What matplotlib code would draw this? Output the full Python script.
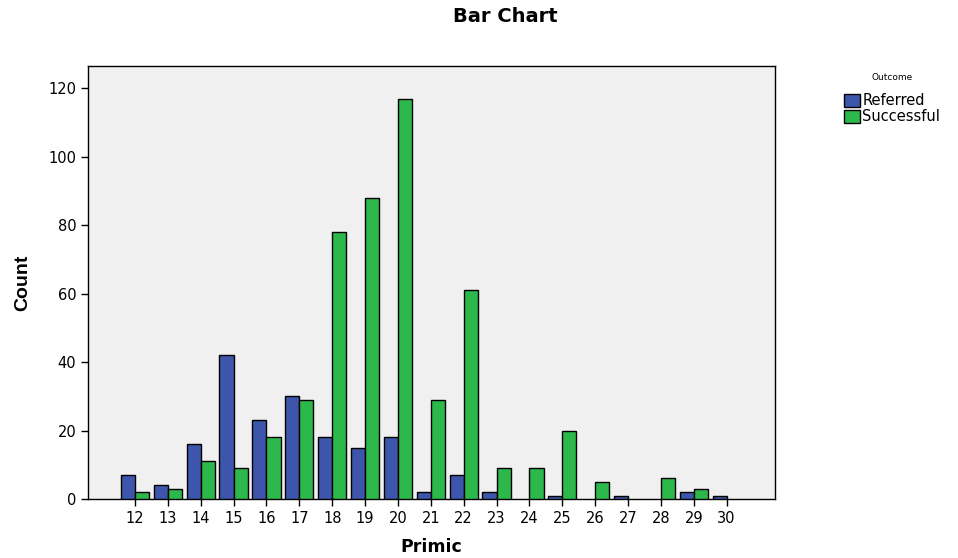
import numpy as np
import matplotlib.pyplot as plt
from matplotlib.patches import Patch

plt.rcParams['font.family'] = ['DejaVu Sans']

primic = [12, 13, 14, 15, 16, 17, 18, 19, 20, 21, 22, 23, 24, 25, 26, 27, 28, 29, 30]
referred = [7, 4, 16, 42, 23, 30, 18, 15, 18, 2, 7, 2, 0, 1, 0, 1, 0, 2, 1]
successful = [2, 3, 11, 9, 18, 29, 78, 88, 117, 29, 61, 9, 9, 20, 5, 0, 6, 3, 0]

c_ref = '#3d56ab'
c_suc = '#2db84b'

fig = plt.figure(figsize=(9.58, 5.58), dpi=100)
ax = fig.add_axes([88 / 958, 59 / 558, 687 / 958, 433 / 558])
ax.set_facecolor('#f0f0f0')

x = np.array(primic, dtype=float)
w = 0.43
for xi, r, s in zip(x, referred, successful):
    if r > 0:
        ax.bar(xi - w / 2, r, width=w, color=c_ref, edgecolor='black', linewidth=1.0, zorder=3)
    if s > 0:
        ax.bar(xi + w / 2, s, width=w, color=c_suc, edgecolor='black', linewidth=1.0, zorder=3)

ax.set_xlim(10.57, 31.47)
ax.set_ylim(0, 126.5)
ax.set_xticks(primic)
ax.set_xticklabels([str(p) for p in primic])
ax.set_yticks([0, 20, 40, 60, 80, 100, 120])
ax.tick_params(axis='both', direction='out', length=5, width=1, labelsize=10.5, colors='black')
for sp in ax.spines.values():
    sp.set_linewidth(1)
    sp.set_color('black')

ax.set_xlabel('Primic', fontsize=12.5, fontweight='bold', labelpad=9)
ax.set_ylabel('Count', fontsize=14, fontweight='bold', family='Liberation Sans')
ax.yaxis.set_label_coords(-57 / 687, 0.5)
fig.text(505 / 958, 1 - 16 / 558, 'Bar Chart', ha='center', va='center',
         fontsize=14, fontweight='bold')

handles = [Patch(facecolor=c_ref, edgecolor='black', label='Referred'),
           Patch(facecolor=c_suc, edgecolor='black', label='Successful')]
leg = fig.legend(handles=handles, loc='upper left', bbox_to_anchor=(834 / 958, 1 - 63 / 558),
                 title='Outcome', fontsize=10.5, frameon=False, handlelength=1.1,
                 handleheight=1.0, handletextpad=0.15, labelspacing=0.05, borderpad=0.2)
leg.get_title().set_fontsize(6.5)
leg._legend_box.sep = 8

fig.savefig('out.png', dpi=100)
